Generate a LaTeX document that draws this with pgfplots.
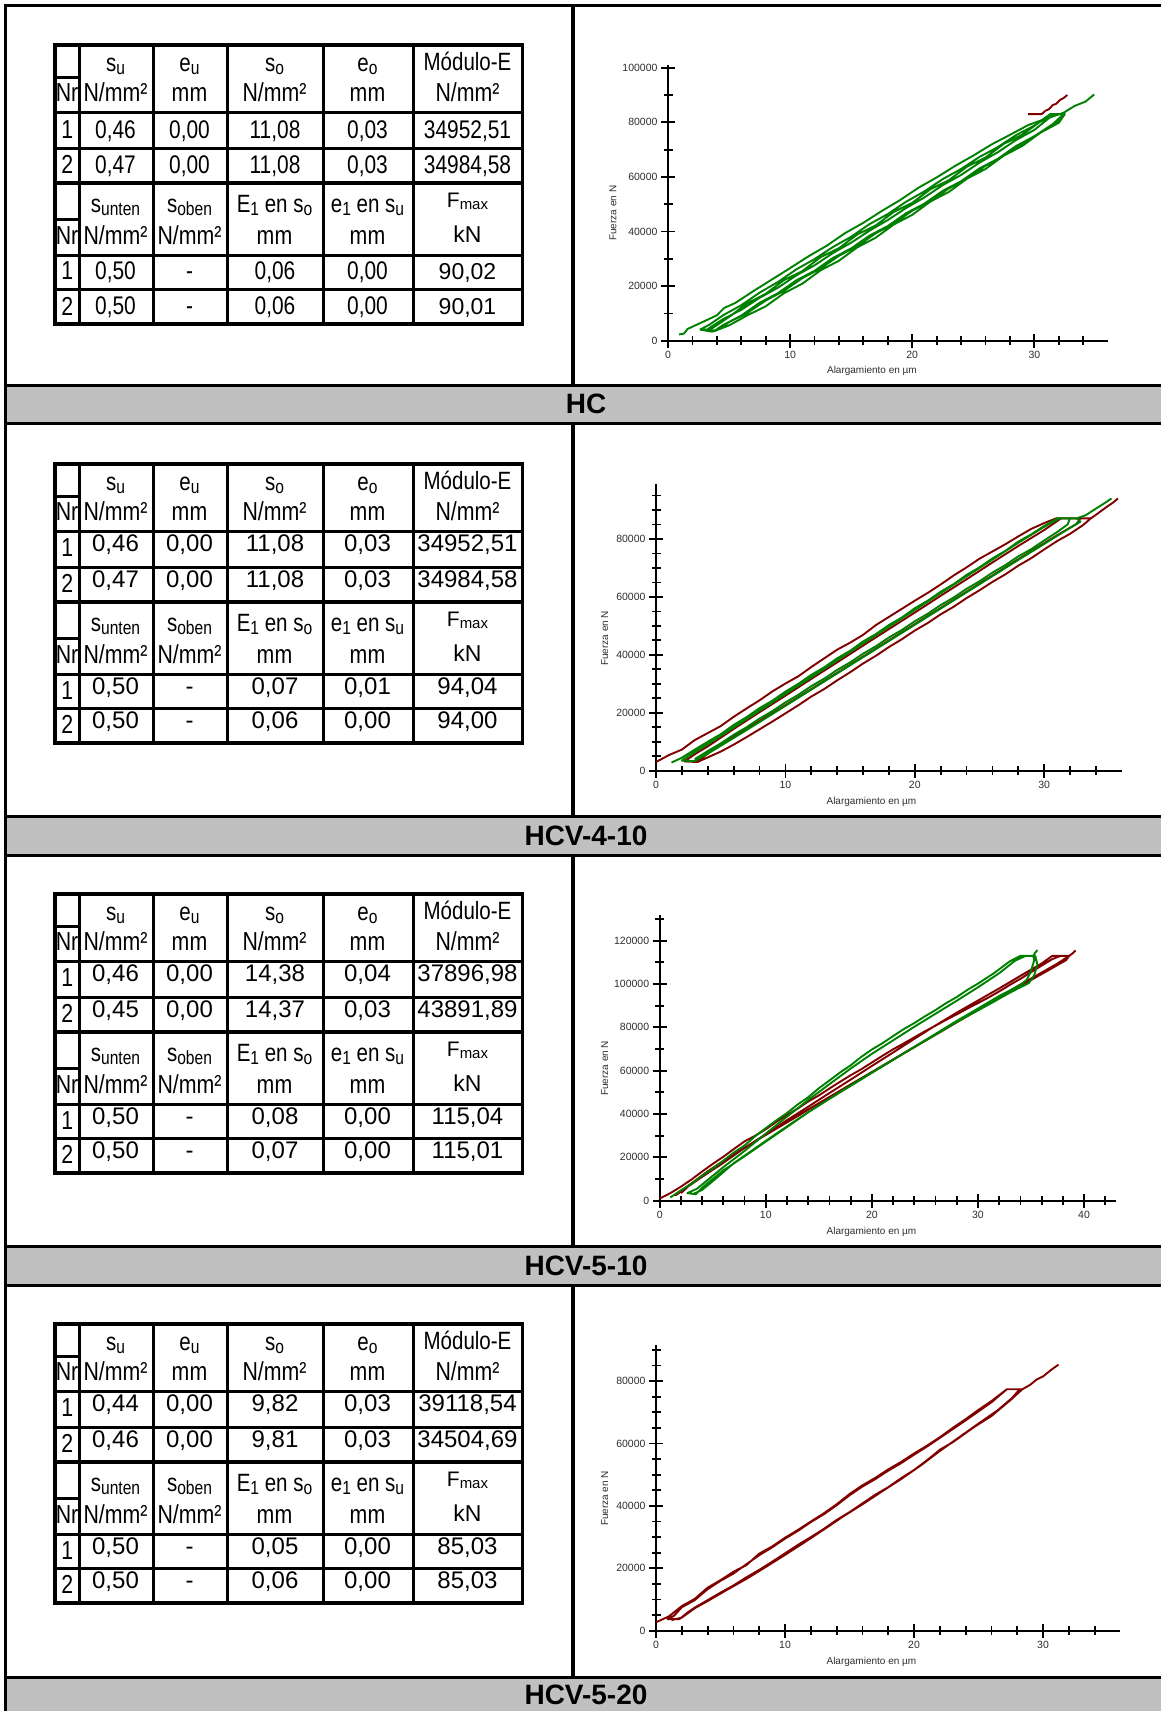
\documentclass[border=0pt]{standalone}
\usepackage{fontspec}
\setmainfont{Liberation Sans}
\newfontfamily\arial{Liberation Sans}
\newfontfamily\narrow[FakeStretch=0.82]{Liberation Sans}
\usepackage{pgfplots}
\pgfplotsset{compat=1.18}
\definecolor{grn}{RGB}{0,128,0}
\definecolor{dred}{RGB}{128,0,0}
\definecolor{barg}{RGB}{192,192,192}
\definecolor{tk}{RGB}{45,45,45}

\newcommand{\nfs}[1]{\narrow\fontsize{#1}{#1}\selectfont}
\newcommand{\rfs}[1]{\arial\fontsize{#1}{#1}\selectfont}
\newcommand{\sbx}[1]{\raisebox{-3pt}{\fontsize{19}{19}\selectfont #1}}
\newcommand{\sbr}[1]{\raisebox{-2pt}{\fontsize{15}{15}\selectfont #1}}
\tikzset{t/.style={inner sep=0pt,anchor=base}}

\newcommand{\tgrid}[1]{%
 \foreach \xx in {79,153.3,227.3,323.3,413.3}{\draw[line width=3pt] (\xx,#1) -- (\xx,{#1+279});}
 \foreach \yy in {67,103,210,244.5}{\draw[line width=3pt] (55,{#1+\yy}) -- (522.3,{#1+\yy});}
 \draw[line width=4.5pt] (55,{#1+138}) -- (522.3,{#1+138});
 \draw[line width=3pt] (55,{#1+32}) -- (79,{#1+32});
 \draw[line width=3pt] (55,{#1+174}) -- (79,{#1+174});
 \draw[line width=3.2pt] (55,#1) rectangle (522.3,{#1+279});
 \node[t,font=\nfs{25}] at (115.5,{#1+26}) {s\sbx{u}};
 \node[t,font=\nfs{25}] at (189.5,{#1+26}) {e\sbx{u}};
 \node[t,font=\nfs{25}] at (274.5,{#1+26}) {s\sbx{o}};
 \node[t,font=\nfs{25}] at (367.5,{#1+26}) {e\sbx{o}};
 \node[t,font=\nfs{25}] at (467.5,{#1+25.3}) {Módulo-E};
 \node[t,font=\nfs{26}] at (67,{#1+56.7}) {Nr};
 \node[t,font=\nfs{26}] at (115.5,{#1+56.7}) {N/mm²};
 \node[t,font=\nfs{26}] at (189.5,{#1+56.7}) {mm};
 \node[t,font=\nfs{26}] at (274.5,{#1+56.7}) {N/mm²};
 \node[t,font=\nfs{26}] at (367.5,{#1+56.7}) {mm};
 \node[t,font=\nfs{26}] at (467.5,{#1+56.7}) {N/mm²};
 \node[t,font=\nfs{25}] at (115.5,{#1+167.7}) {s\sbx{unten}};
 \node[t,font=\nfs{25}] at (189.5,{#1+167.7}) {s\sbx{oben}};
 \node[t,font=\nfs{25}] at (274.5,{#1+167.7}) {E\sbx{1} en s\sbx{o}};
 \node[t,font=\nfs{25}] at (367.5,{#1+167.7}) {e\sbx{1} en s\sbx{u}};
 \node[t,font=\rfs{21}] at (467.5,{#1+162.7}) {F\sbr{max}};
 \node[t,font=\nfs{26}] at (67,{#1+199.3}) {Nr};
 \node[t,font=\nfs{26}] at (115.5,{#1+199.3}) {N/mm²};
 \node[t,font=\nfs{26}] at (189.5,{#1+199.3}) {N/mm²};
 \node[t,font=\nfs{26}] at (274.5,{#1+199.3}) {mm};
 \node[t,font=\nfs{26}] at (367.5,{#1+199.3}) {mm};
 \node[t,font=\rfs{23}] at (467.5,{#1+197.7}) {kN};
}
\newcommand{\drow}[8]{%
 \node[t,font=\nfs{26}] at (67.3,#2) {#3};
 \node[t,font=\dfont] at (115.5,#1) {#4};
 \node[t,font=\dfont] at (189.5,#1) {#5};
 \node[t,font=\dfont] at (275,#1) {#6};
 \node[t,font=\dfont] at (367.5,#1) {#7};
 \node[t,font=\efont] at (467.5,#1) {#8};
}

\pgfplotsset{chart/.style={
  scale only axis, axis lines=middle,
  axis line style={line width=2pt,-,black},
  hide obscured x ticks=false, hide obscured y ticks=false,
  tick align=center, major tick length=14pt, minor tick length=9pt,
  every tick/.append style={line width=1.8pt,black},
  ticklabel style={font=\rfs{10.5},text=tk},
  scaled ticks=false,
  clip=false,
  every axis plot/.append style={line width=1.9pt, no marks, line join=round},
}}
\tikzset{lab/.style={font=\rfs{10},text=tk,inner sep=0pt}}

\begin{document}
\begin{tikzpicture}
\useasboundingbox (0pt,0pt) rectangle (1161pt,-1711pt);
\begin{scope}[x=1pt,y=-1pt]
 \fill[barg] (5.5,385) rectangle (1175,423);
 \fill[barg] (5.5,816) rectangle (1175,855);
 \fill[barg] (5.5,1246) rectangle (1175,1285);
 \fill[barg] (5.5,1677) rectangle (1175,1725);
 \foreach \yy in {385,423,816,855,1246,1285,1677}{\draw[line width=3pt] (5.5,\yy) -- (1175,\yy);}
 \draw[line width=3.5pt] (5.5,1725) -- (5.5,5.5) -- (1175,5.5);
 \draw[line width=4pt] (572.5,5.5) -- (572.5,385);
 \draw[line width=4pt] (572.5,423) -- (572.5,816);
 \draw[line width=4pt] (572.5,855) -- (572.5,1246);
 \draw[line width=4pt] (572.5,1285) -- (572.5,1677);
 \node[font=\rfs{28}\bfseries,inner sep=0pt] at (586,403.8) {HC};
 \node[font=\rfs{28}\bfseries,inner sep=0pt] at (586,835.5) {HCV-4-10};
 \node[font=\rfs{28}\bfseries,inner sep=0pt] at (586,1265.5) {HCV-5-10};
 \node[font=\rfs{28}\bfseries,inner sep=0pt] at (586,1695) {HCV-5-20};
 % table 1
 \tgrid{45}
 \def\dfont{\nfs{25.5}}\def\efont{\nfs{25.5}}
 \drow{138.3}{138.3}{1}{0,46}{0,00}{11,08}{0,03}{34952,51}
 \drow{173.3}{173.3}{2}{0,47}{0,00}{11,08}{0,03}{34984,58}
 \def\efont{\rfs{23}}
 \drow{279.3}{279.3}{1}{0,50}{-}{0,06}{0,00}{90,02}
 \drow{314.5}{315}{2}{0,50}{-}{0,06}{0,00}{90,01}
 % table 2
 \tgrid{464}
 \def\dfont{\rfs{24}}\def\efont{\rfs{24}}
 \drow{551.7}{556.7}{1}{0,46}{0,00}{11,08}{0,03}{34952,51}
 \drow{587.3}{592.3}{2}{0,47}{0,00}{11,08}{0,03}{34984,58}
 \drow{694}{699}{1}{0,50}{-}{0,07}{0,01}{94,04}
 \drow{728.3}{733.3}{2}{0,50}{-}{0,06}{0,00}{94,00}
 % table 3
 \tgrid{894}
 \drow{981.7}{986.7}{1}{0,46}{0,00}{14,38}{0,04}{37896,98}
 \drow{1017.3}{1022.3}{2}{0,45}{0,00}{14,37}{0,03}{43891,89}
 \drow{1124}{1129}{1}{0,50}{-}{0,08}{0,00}{115,04}
 \drow{1158.3}{1163.3}{2}{0,50}{-}{0,07}{0,00}{115,01}
 % table 4
 \tgrid{1324}
 \drow{1411.7}{1416.7}{1}{0,44}{0,00}{9,82}{0,03}{39118,54}
 \drow{1447.3}{1452.3}{2}{0,46}{0,00}{9,81}{0,03}{34504,69}
 \drow{1554}{1559}{1}{0,50}{-}{0,05}{0,00}{85,03}
 \drow{1588.3}{1593.3}{2}{0,50}{-}{0,06}{0,00}{85,03}
\end{scope}

% ---------- chart 1: HC ----------
\begin{axis}[chart, anchor=south west, at={(661.9pt,-343.43pt)},
  width=445.7pt, height=278.46pt,
  xmin=-0.5, xmax=36, ymin=-1000, ymax=101000,
  xtick={0,10,20,30}, xticklabels={0,10,20,30},
  minor xtick={2,4,6,8,12,14,16,18,22,24,26,28,32,34},
  ytick={0,20000,40000,60000,80000,100000},
  yticklabels={0,20000,40000,60000,80000,100000},
  minor ytick={10000,30000,50000,70000,90000}]
\addplot[grn] coordinates {(2.6,4000) (3.4,5900) (4.5,9300) (6,13000) (7.5,17600) (9,21500) (10.5,26100) (12,29900) (13.5,34300) (15,38100) (16.5,42700) (18,46400) (19.5,50900) (21,54700) (22.5,59200) (24,62900) (25.5,67300) (27,70900) (28.5,75300) (30,78800) (31.3,83000) (32.5,83000) (31.8,80000) (30.5,76300) (29,72300) (27.5,67800) (26,64100) (24.5,59500) (23,55800) (21.5,51200) (20,47600) (18.5,43000) (17,39300) (15.5,34700) (14,31100) (12.5,26500) (11,22900) (9.5,18300) (8,14700) (6.5,10200) (5,6800) (4,3800) (3.6,3300) (2.7,4000) (3.2,4100) (4.5,7900) (6,11300) (7.5,15700) (9,19400) (10.5,23900) (12,27600) (13.5,32100) (15,35900) (16.5,40300) (18,44200) (19.5,48600) (21,52500) (22.5,57000) (24,60700) (25.5,65200) (27,69000) (28.5,73500) (30,77200) (31.6,83000) (32.4,83000) (31.5,79300) (30,74900) (28.5,71300) (27,66600) (25.5,63100) (24,58400) (22.5,54900) (21,50200) (19.5,46700) (18,42000) (16.5,38500) (15,33800) (13.5,30300) (12,25600) (10.5,22100) (9,17400) (7.5,13900) (6,9200) (4.5,5700) (3.8,3600) (3,4000) (3.5,4200) (5,8700) (6.5,13700) (8,17200) (9.5,22200) (11,25500) (12.5,30600) (14,33900) (15.5,38900) (17,42200) (18.5,47200) (20,50500) (21.5,55500) (23,58800) (24.5,63800) (26,67100) (27.5,72100) (29,75400) (30.5,80300) (31.9,83000) (32.5,83000) (32,79800) (30.5,76200) (29,71300) (27.5,67800) (26,62900) (24.5,59400) (23,54500) (21.5,51000) (20,46100) (18.5,42600) (17,37700) (15.5,34200) (14,29300) (12.5,25800) (11,20900) (9.5,17400) (8,12600) (6.5,9300) (5,5600) (4,3900) (3.4,3600)};
\addplot[grn] coordinates {(0.9,2300) (1.3,2600) (1.6,4300) (3,7200) (4,9300) (4.6,12000) (5.5,13800) (7,18200) (8.5,22400) (10,26600) (11.5,30900) (13,34800) (14.5,39400) (16,43200) (17.5,47500) (19,51500) (20.5,56000) (22,59800) (23.5,64000) (25,67800) (26.5,71900) (28,75400) (29.5,79000) (31,81400) (32.4,83500) (33.3,86000) (34.2,87600) (34.9,90200)};
\addplot[dred] coordinates {(29.5,83000) (30.6,83000) (30.9,84200) (31.2,84800) (31.5,86300) (31.8,86800) (32.1,88200) (32.4,88900) (32.7,90000)};
\node[lab] at (axis cs:16.7,-10990) {Alargamiento en µm};
\node[lab,rotate=90] at (axis cs:-4.5,46700) {Fuerza en N};
\end{axis}

% ---------- chart 2: HCV-4-10 ----------
\begin{axis}[chart, anchor=south west, at={(649.53pt,-773.6pt)},
  width=472.3pt, height=289.63pt,
  xmin=-0.5, xmax=36, ymin=-1000, ymax=99000,
  xtick={0,10,20,30}, xticklabels={0,10,20,30},
  minor xtick={2,4,6,8,12,14,16,18,22,24,26,28,32,34},
  ytick={0,20000,40000,60000,80000},
  yticklabels={0,20000,40000,60000,80000},
  minor ytick={5000,10000,15000,25000,30000,35000,45000,50000,55000,65000,70000,75000,85000,90000,95000}]
\addplot[dred] coordinates {(0,3000) (1,5400) (2,7300) (3,10600) (4,13000) (5,15400) (6,18600) (7,21500) (8,24300) (9,27400) (10,30100) (11,32600) (12,35800) (13,38800) (14,41800) (15,44200) (16,46900) (17,50300) (18,53100) (19,55900) (20,58700) (21,61400) (22,64300) (23,67400) (24,70200) (25,73200) (26,75700) (27,78200) (28,80900) (29,83500) (30,85500) (30.9,87100) (33.6,87100) (33,84800) (32,81800) (31,79300) (30,76400) (29,73400) (28,70800) (27,67800) (26,65200) (25,62300) (24,59600) (23,56600) (22,54000) (21,51000) (20,48400) (19,45400) (18,42700) (17,39700) (16,37000) (15,34000) (14,31200) (13,28200) (12,25600) (11,22600) (10,19800) (9,17000) (8,14300) (7,11600) (6,9000) (5,6600) (4,4600) (3.2,3000) (2.2,3200) (3,5700) (4,8400) (6,14400) (8,20200) (10,25900) (12,31700) (14,37400) (16,43200) (18,48900) (20,54600) (22,60400) (24,66100) (26,71900) (28,77600) (30,83100) (31.3,87100) (32.8,87100) (32.5,85200) (31,81300) (29,75800) (27,70200) (25,64600) (23,59000) (21,53400) (19,47800) (17,42200) (15,36600) (13,31000) (11,25400) (9,19900) (7,14500) (5,9300) (3.5,4200) (2.8,3200)};
\addplot[grn] coordinates {(1.2,2800) (2,4500) (3,7300) (4,10000) (5,12600) (6,15800) (7,18500) (8,21600) (9,24200) (10,27300) (11,30000) (12,33100) (13,35700) (14,38800) (15,41400) (16,44600) (17,47200) (18,50300) (19,52900) (20,56100) (21,58700) (22,61800) (23,64400) (24,67600) (25,70200) (26,73300) (27,75900) (28,79100) (29,81600) (30,84500) (31,87100) (32.5,87100) (32.8,86000) (31.5,82500) (30,78300) (28,72800) (26,67200) (24,61600) (22,56000) (20,50400) (18,44800) (16,39200) (14,33600) (12,28000) (10,22400) (8,16800) (6,11300) (4,5900) (3,3300) (2,3500) (3,6400) (4,9100) (6,14900) (8,20700) (10,26500) (12,32300) (14,38100) (16,43900) (18,49700) (20,55500) (22,61300) (24,67100) (26,72900) (28,78700) (30,84200) (31.2,87100) (32,87100) (31.8,85000) (31,82400) (30,79500) (29,76500) (28,74000) (27,71000) (26,68400) (25,65400) (24,62800) (23,59800) (22,57200) (21,54200) (20,51600) (19,48600) (18,46000) (17,43000) (16,40400) (15,37400) (14,34800) (13,31800) (12,29200) (11,26200) (10,23600) (9,20600) (8,18000) (7,15000) (6,12400) (5,9400) (4,6800) (3,4000)};
\addplot[grn] coordinates {(32.5,87100) (33.2,88200) (34,90500) (34.6,92200) (35.2,94000)};
\addplot[dred] coordinates {(33.6,87100) (34.2,89000) (34.8,91000) (35.3,92500) (35.7,94000)};
\node[lab] at (axis cs:16.65,-10700) {Alargamiento en µm};
\node[lab,rotate=90] at (axis cs:-3.96,45700) {Fuerza en N};
\end{axis}

% ---------- chart 3: HCV-5-10 ----------
\begin{axis}[chart, anchor=south west, at={(654.4pt,-1202.87pt)},
  width=461.5pt, height=288.17pt,
  xmin=-0.5, xmax=43, ymin=-1000, ymax=132000,
  xtick={0,10,20,30,40}, xticklabels={0,10,20,30,40},
  minor xtick={2,4,6,8,12,14,16,18,22,24,26,28,32,34,36,38,42},
  ytick={0,20000,40000,60000,80000,100000,120000},
  yticklabels={0,20000,40000,60000,80000,100000,120000},
  minor ytick={10000,30000,50000,70000,90000,110000,130000}]
\addplot[dred] coordinates {(0,1000) (1,3500) (2,6500) (3,9800) (4,13500) (5,17000) (6,20300) (7,23900) (8,27400) (9,30000) (10,33000) (11,36400) (12,39600) (13,42500) (14,45800) (15,48600) (16,51800) (17,54900) (18,57900) (19,60700) (20,63800) (21,66900) (22,69900) (23,72600) (24,75400) (25,78200) (26,80800) (27,83500) (28,86000) (29,88700) (30,91200) (31,93800) (32,96600) (33,99600) (34,102400) (35.5,107000) (37,111500) (37.8,113000) (38.6,113000) (37.5,109500) (36,105300) (34,99800) (32,94000) (30,88200) (28,82500) (26,76700) (24,71000) (22,65200) (20,59400) (18,53700) (16,47900) (14,42100) (12,36300) (10,30500) (8,24300) (6,18000) (4,11500) (3,8000) (2,4500) (1.5,2500) (2.5,6000) (4,11000) (6,17500) (8,24400) (10,30700) (12,37200) (14,43400) (16,49700) (18,55900) (20,62200) (22,68400) (24,74700) (26,80900) (28,86800) (30,92400) (32,98000) (34,103800) (36,109500) (37,113000) (38.6,113000) (38.3,111000) (36.5,106000) (34.5,100500) (32.5,95000) (30.5,89400) (28.5,83800) (26.5,78000) (24.5,72300) (22.5,66500) (20.5,60700) (18.5,55000) (16.5,49200) (14.5,43400) (12.5,37600) (10.5,31800) (8.5,26000) (6.5,20000) (4.5,13500) (3,8000) (2,3500)};
\addplot[dred] coordinates {(38.6,113000) (39,114500) (39.2,115500)};
\addplot[grn] coordinates {(1,1500) (2,4800) (3,7800) (4,11500) (5,14800) (6,18500) (7,22300) (8,25500) (9,29800) (10,33500) (11,37100) (12,40500) (13,44400) (14,47800) (15,51900) (16,55500) (17,59200) (18,62500) (19,66400) (20,69800) (21,72700) (22,76000) (23,79200) (24,82000) (25,85100) (26,88000) (27,91200) (28,94000) (29,97300) (30,100200) (31.5,105000) (33,110500) (34,113000) (35.2,113000) (35.3,111000) (35,106000) (34.6,102000) (34,99500) (32,94500) (30,88700) (28,83000) (26,77000) (24,71000) (22,65000) (20,59000) (18,53000) (16,47000) (14,40800) (12,34000) (10,27300) (8,20500) (6,14000) (5,10000) (4,6000) (3.4,3000) (2.6,3500) (3.5,5500) (4.5,9500) (6,15500) (8,23000) (10,31000) (12,38800) (14,46500) (16,53800) (18,61000) (20,67800) (22,74000) (24,80300) (26,86300) (28,92300) (30,98500) (32,105000) (33.5,110800) (34.5,113000) (35.4,113000) (35.6,109000) (35.3,104000) (34.8,100500) (33,96000) (31,90500) (29,85200) (27,79600) (25,73800) (23,68000) (21,62200) (19,56200) (17,50200) (15,44000) (13,37600) (11,31000) (9,24200) (7,17400) (5,9000) (4,5000) (3.2,3200)};
\addplot[grn] coordinates {(35.2,113000) (35.4,114500) (35.6,115700)};
\node[lab] at (axis cs:19.96,-14300) {Alargamiento en µm};
\node[lab,rotate=90] at (axis cs:-5.18,61100) {Fuerza en N};
\end{axis}

% ---------- chart 4: HCV-5-20 ----------
\begin{axis}[chart, anchor=south west, at={(649.55pt,-1633.82pt)},
  width=470.85pt, height=288.6pt,
  xmin=-0.5, xmax=36, ymin=-1000, ymax=91500,
  xtick={0,10,20,30}, xticklabels={0,10,20,30},
  minor xtick={2,4,6,8,12,14,16,18,22,24,26,28,32,34},
  ytick={0,20000,40000,60000,80000},
  yticklabels={0,20000,40000,60000,80000},
  minor ytick={5000,10000,15000,25000,30000,35000,45000,50000,55000,65000,70000,75000,85000,90000}]
\addplot[dred] coordinates {(0,2700) (1,4600) (2,7900) (3,10200) (4,13800) (5,16200) (6,18900) (7,21000) (8,24700) (9,27000) (10,29800) (11,32300) (12,35000) (13,37600) (14,40500) (15,43800) (16,46600) (17,49000) (18,51700) (19,54100) (20,56800) (21,59300) (22,62000) (23,65000) (24,67800) (25,70800) (26,73600) (27.2,77400) (28.4,77400) (27.5,74000) (26,68800) (24.7,65400) (23,60400) (22,58000) (21,54600) (20,51500) (19,48900) (18,46000) (17,43600) (16,40800) (15,38000) (14,35500) (13,32600) (12,30000) (11,27500) (10,24800) (9,22100) (8,19500) (7,17100) (6,14500) (5,12200) (4,9800) (3,7400) (2.5,6000) (1.8,3700) (0.9,3700) (1.4,4800) (2,7500) (3,9800) (4,13300) (5,16000) (6,18300) (7,21300) (8,24200) (9,26700) (10,29500) (11,32000) (12,34800) (13,37300) (14,40200) (15,43400) (16,46200) (17,48600) (18,51300) (19,53700) (20,56400) (21,59000) (22,61800) (23,64600) (24,67400) (25,70300) (26,73200) (27.2,77400) (28.2,77400) (27.6,74600) (26.5,70700) (25,66400) (23.5,62000) (22,57600) (20.5,52900) (19,48600) (17.5,44600) (16,40500) (14.5,36600) (13,32400) (11.5,28300) (10,24300) (8.5,20400) (7,16600) (5.5,13100) (4,9500) (3,7200) (2,4200) (1.2,3400)};
\addplot[dred] coordinates {(28.4,77400) (29,78800) (29.5,80500) (30,81500) (30.6,83500) (31.2,85300)};
\node[lab] at (axis cs:16.7,-9940) {Alargamiento en µm};
\node[lab,rotate=90] at (axis cs:-3.98,42400) {Fuerza en N};
\end{axis}
\end{tikzpicture}
\end{document}
